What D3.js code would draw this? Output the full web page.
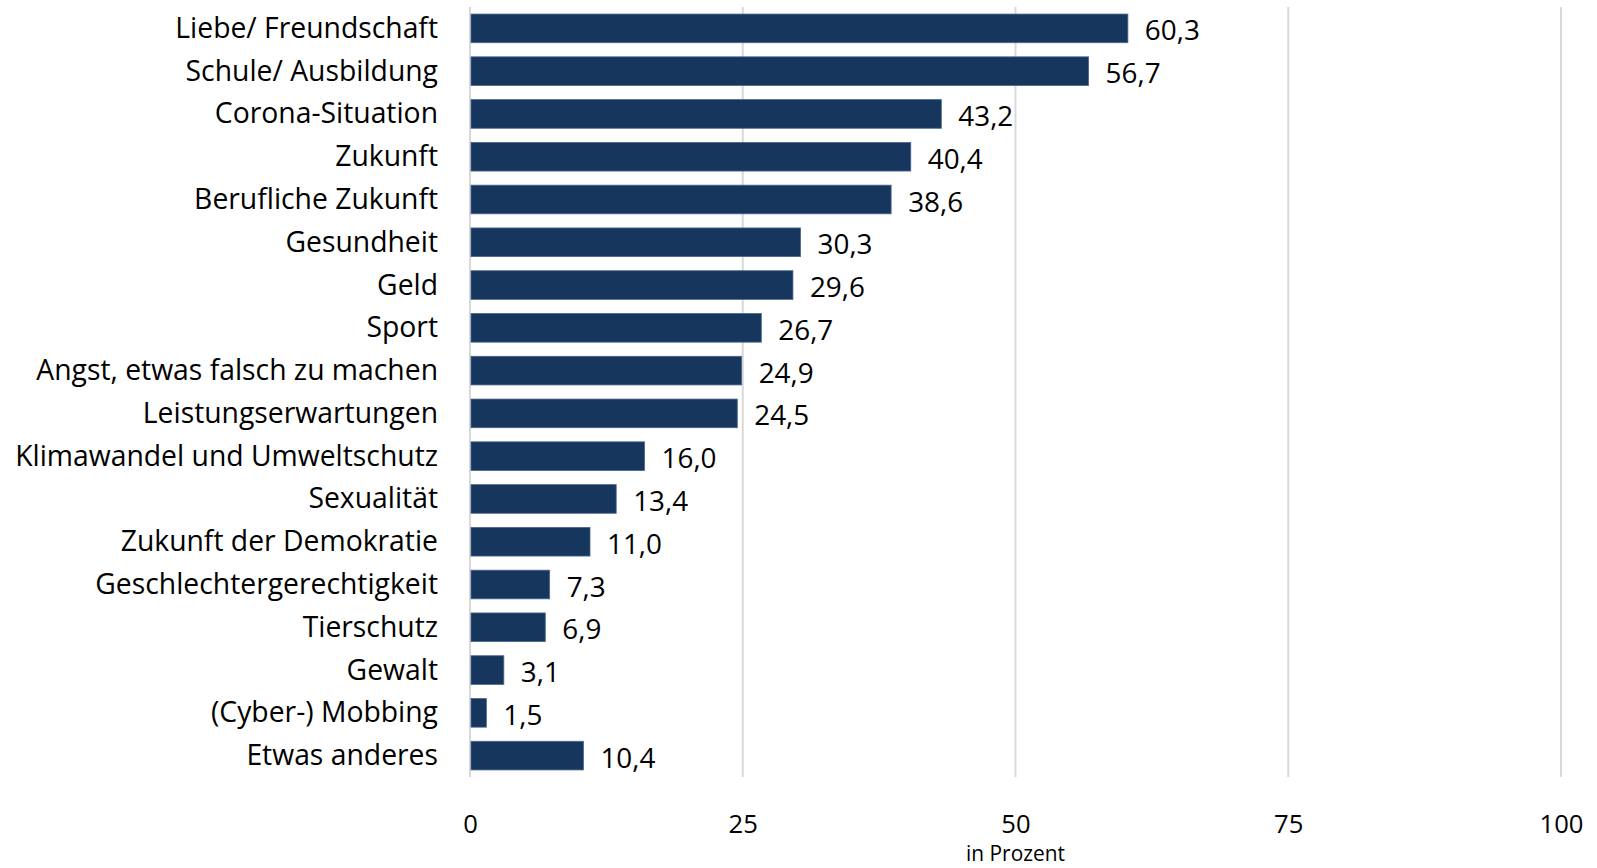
<!DOCTYPE html>
<html>
<head>
<meta charset="utf-8">
<script src="https://cdn.jsdelivr.net/npm/d3@7/dist/d3.min.js"></script>
<style>
  html, body { margin: 0; padding: 0; background: #fff; }
  svg { display: block; }
  text { font-family: "Open Sans", "Noto Sans", sans-serif; fill: #000; }
</style>
</head>
<body>
<svg id="chart" width="1597" height="868"></svg>
<script>
const categories = [
  "Liebe/ Freundschaft", "Schule/ Ausbildung", "Corona-Situation", "Zukunft",
  "Berufliche Zukunft", "Gesundheit", "Geld", "Sport",
  "Angst, etwas falsch zu machen", "Leistungserwartungen",
  "Klimawandel und Umweltschutz", "Sexualität", "Zukunft der Demokratie",
  "Geschlechtergerechtigkeit", "Tierschutz", "Gewalt", "(Cyber-) Mobbing",
  "Etwas anderes"
];
const values = [60.3, 56.7, 43.2, 40.4, 38.6, 30.3, 29.6, 26.7, 24.9, 24.5,
                16.0, 13.4, 11.0, 7.3, 6.9, 3.1, 1.5, 10.4];
const tickValues = [0, 25, 50, 75, 100];
const axisTitle = "in Prozent";

const svg = d3.select("#chart");
const plotLeft = 470, plotRight = 1561, plotTop = 7, plotBottom = 777;

const x = d3.scaleLinear().domain([0, 100]).range([plotLeft, plotRight]);
const y = d3.scaleBand().domain(categories).range([plotTop, plotBottom]).paddingInner(0.33).paddingOuter(0.165);

function fitSize(text, target, base) {
  const t = svg.append("text").style("font-size", base + "px").text(text);
  const w = t.node().getComputedTextLength();
  t.remove();
  return base * target / w;
}
const catSize = fitSize("Klimawandel und Umweltschutz", 423, 26);
const valSize = fitSize("24,9", 55, 26);
const tickSize = fitSize("100", 44, 26);
const titleSize = fitSize(axisTitle, 99, 20);

// gridlines
svg.append("g").selectAll("line").data(tickValues).join("line")
  .attr("x1", d => x(d)).attr("x2", d => x(d))
  .attr("y1", plotTop).attr("y2", plotBottom)
  .attr("stroke", "#d9d9d9").attr("stroke-width", 2);

// bars
svg.append("g").selectAll("rect").data(values).join("rect")
  .attr("x", x(0) + 1)
  .attr("y", (d, i) => y(categories[i]))
  .attr("width", d => x(d) - x(0) - 1)
  .attr("height", y.bandwidth())
  .attr("fill", "#17365d")
  .attr("stroke", "#4a6690").attr("stroke-width", 0.8);

// value labels
svg.append("g").selectAll("text").data(values).join("text")
  .attr("x", d => x(d) + 17)
  .attr("y", (d, i) => y(categories[i]) + y.bandwidth() / 2 + 12)
  .style("font-size", valSize + "px")
  .text(d => d3.format(".1f")(d).replace(".", ","));

// category labels
svg.append("g").selectAll("text").data(categories).join("text")
  .attr("x", 438)
  .attr("y", d => y(d) + y.bandwidth() / 2 + 9.5)
  .attr("text-anchor", "end")
  .style("font-size", catSize + "px")
  .text(d => d);

// x axis tick labels
const xAxis = d3.axisBottom(x).tickValues(tickValues).tickSize(0).tickPadding(0).tickFormat(d3.format("d"));
const gx = svg.append("g").attr("transform", `translate(0,${833})`).call(xAxis);
gx.select(".domain").remove();
gx.selectAll("text")
  .attr("y", 0).attr("dy", 0)
  .style("font-size", tickSize + "px")
  .style("font-family", '"Open Sans", "Noto Sans", sans-serif')
  .attr("fill", "#000");

svg.append("text")
  .attr("x", (plotLeft + plotRight) / 2)
  .attr("y", 861)
  .attr("text-anchor", "middle")
  .style("font-size", titleSize + "px")
  .text(axisTitle);
</script>
</body>
</html>
